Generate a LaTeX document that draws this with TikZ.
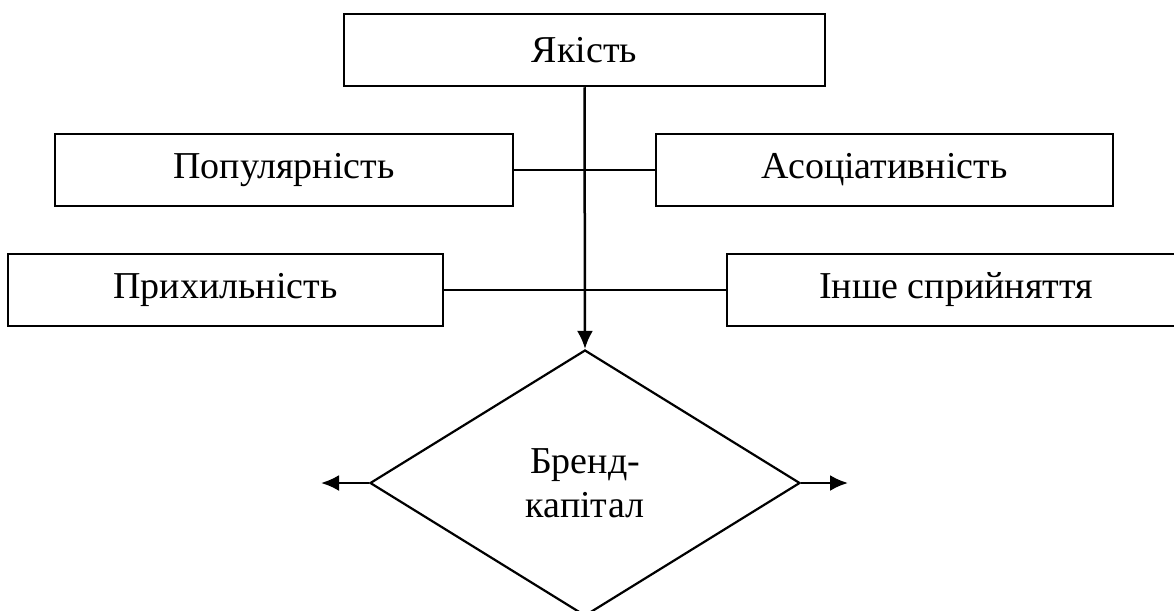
\documentclass[tikz,border=0pt]{standalone}
\usepackage{fontspec}
\setmainfont{Liberation Serif}
\usetikzlibrary{shapes.geometric,arrows.meta}
\tikzset{
  box/.style={draw, line width=2.5pt, minimum height=72pt, inner sep=0pt, font=\fontsize{38}{43}\selectfont},
  conn/.style={line width=2.5pt},
  arr/.style={line width=2.5pt, -{Latex[length=18pt,width=16pt]}},
  dia/.style={draw, diamond, line width=2.2pt, minimum width=430pt, minimum height=266pt, inner sep=0pt, align=center, font=\fontsize{38}{44}\selectfont}
}
\begin{document}
\begin{tikzpicture}[x=1pt,y=-1pt]
\useasboundingbox (0,0) rectangle (1174,610);
\clip (0,0) rectangle (1174,610);
\node[box, minimum width=481pt] (q) at (584.5,50) {Якість};
\node[box, minimum width=458pt] (pop) at (284,170) {Популярність};
\node[box, minimum width=457pt] (asoc) at (884.5,170) {Асоціативність};
\node[box, minimum width=435pt] (prykh) at (225.5,290) {Прихильність};
\node[box, minimum width=458pt] (inshe) at (956,290) {Інше сприйняття};
\node[dia] (d) at (585,483) {Бренд-\\капітал};
\coordinate (lt) at (321,483);
\coordinate (rt) at (848,483);
\draw[conn] (pop.east) -- (asoc.west);
\draw[conn] (prykh.east) -- (inshe.west);
\draw[arr] (q.south) -- (d.north);
\draw[arr] (d.west) -- (lt);
\draw[arr] (d.east) -- (rt);
\end{tikzpicture}
\end{document}
